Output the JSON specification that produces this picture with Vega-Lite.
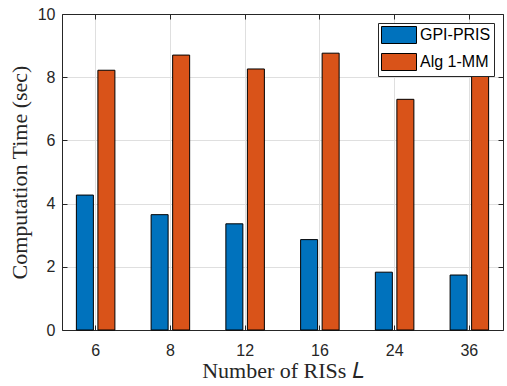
{
  "$schema": "https://vega.github.io/schema/vega-lite/v6.json",
  "width": 441,
  "height": 316,
  "autosize": "none",
  "padding": {"left": 62, "top": 14, "right": 4, "bottom": 56},
  "background": "white",
  "config": {
    "view": {"stroke": null},
    "axis": {
      "labelFont": "Liberation Sans",
      "labelFontSize": 16,
      "labelColor": "#262626",
      "domainColor": "#262626",
      "tickColor": "#262626",
      "titleFont": "Liberation Serif",
      "titleFontWeight": "normal",
      "titleFontSize": 22,
      "titleColor": "#262626"
    }
  },
  "data": {
    "values": [
      {"L": "6", "method": "GPI-PRIS", "time": 4.27},
      {"L": "8", "method": "GPI-PRIS", "time": 3.65},
      {"L": "12", "method": "GPI-PRIS", "time": 3.36},
      {"L": "16", "method": "GPI-PRIS", "time": 2.86},
      {"L": "24", "method": "GPI-PRIS", "time": 1.83},
      {"L": "36", "method": "GPI-PRIS", "time": 1.74},
      {"L": "6", "method": "Alg 1-MM", "time": 8.22},
      {"L": "8", "method": "Alg 1-MM", "time": 8.70},
      {"L": "12", "method": "Alg 1-MM", "time": 8.26},
      {"L": "16", "method": "Alg 1-MM", "time": 8.76},
      {"L": "24", "method": "Alg 1-MM", "time": 7.30},
      {"L": "36", "method": "Alg 1-MM", "time": 8.45}
    ]
  },
  "layer": [
    {
      "mark": {"type": "bar", "stroke": "#000000", "strokeWidth": 1},
      "encoding": {
        "x": {
          "field": "L", "type": "ordinal", "sort": ["6", "8", "12", "16", "24", "36"],
          "scale": {"paddingInner": 0.1, "paddingOuter": 0},
          "axis": {
            "orient": "bottom", "labelAngle": 0, "tickSize": -5, "labelPadding": 17,
            "grid": true, "gridColor": "#dfdfdf", "title": "Number of RISs 𝐿", "titlePadding": 2
          }
        },
        "xOffset": {
          "field": "method", "type": "nominal", "sort": ["GPI-PRIS", "Alg 1-MM"],
          "scale": {"paddingInner": 0.21, "paddingOuter": 0.668}
        },
        "y": {
          "field": "time", "type": "quantitative",
          "scale": {"domain": [0, 10], "nice": false},
          "axis": {
            "orient": "left", "values": [0, 2, 4, 6, 8, 10], "tickSize": -5, "labelPadding": 12,
            "grid": true, "gridColor": "#dfdfdf", "title": "Computation Time (sec)", "titlePadding": 6
          }
        },
        "color": {
          "field": "method", "type": "nominal", "sort": ["GPI-PRIS", "Alg 1-MM"],
          "scale": {"domain": ["GPI-PRIS", "Alg 1-MM"], "range": ["#0072BD", "#D95319"]},
          "legend": {
            "orient": "none", "legendX": 316, "legendY": 9, "title": null,
            "fillColor": "white", "strokeColor": "#262626", "padding": 3,
            "symbolType": "M-1,-1L3.118,-1L3.118,1L-1,1Z", "symbolSize": 289,
            "symbolStrokeColor": "#000000", "symbolStrokeWidth": 1, "symbolOpacity": 1,
            "labelFont": "Liberation Sans", "labelFontSize": 16, "labelColor": "#000000",
            "labelOffset": 21, "rowPadding": 5
          }
        }
      }
    },
    {
      "mark": {"type": "bar", "opacity": 0},
      "encoding": {
        "x": {
          "field": "L", "type": "ordinal", "sort": ["6", "8", "12", "16", "24", "36"],
          "axis": {"orient": "top", "labels": false, "tickSize": -5, "grid": false, "title": null}
        },
        "y": {
          "field": "time", "type": "quantitative",
          "axis": {"orient": "right", "labels": false, "values": [0, 2, 4, 6, 8, 10], "tickSize": -5, "grid": false, "title": null}
        }
      }
    }
  ],
  "resolve": {"axis": {"x": "independent", "y": "independent"}}
}
